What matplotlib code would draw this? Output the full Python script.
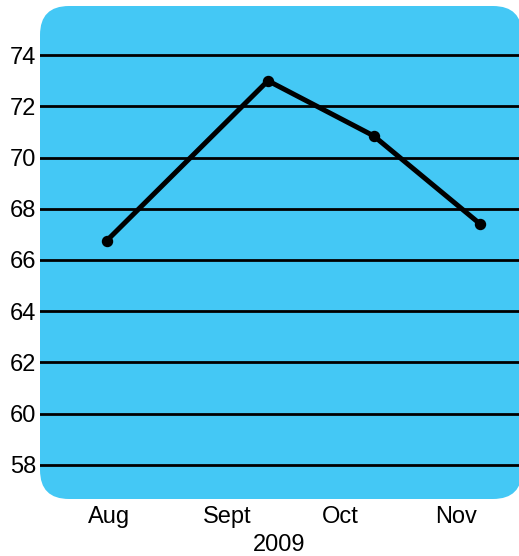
import matplotlib
matplotlib.use("Agg")
import matplotlib.pyplot as plt
from matplotlib.patches import FancyBboxPatch

# Monthly readings for late 2009
months = ["Aug", "Sept", "Oct", "Nov"]
month_ticks = [0.0, 1.02, 1.99, 2.99]
reading_pos = [-0.02, 1.37, 2.28, 3.20]
readings = [66.75, 73.0, 70.85, 67.4]
y_ticks = [58, 60, 62, 64, 66, 68, 70, 72, 74]
year_label = "2009"

panel_blue = "#44C8F5"
plt.rcParams["font.family"] = ["Liberation Sans", "DejaVu Sans"]

fig = plt.figure(figsize=(5.19, 5.56), dpi=100)
ax = fig.add_axes([40 / 519, 57 / 556, 479 / 519, 493 / 556])
ax.set_facecolor("none")

# Rounded blue panel behind the plot, sized in inches so the corners stay circular
panel = FancyBboxPatch((0.40, 0.57), 4.82, 4.93,
                       boxstyle="round,pad=0,rounding_size=0.29",
                       transform=fig.dpi_scale_trans, facecolor=panel_blue,
                       edgecolor="none", clip_on=False, zorder=0)
ax.add_patch(panel)

ax.plot(reading_pos, readings, color="black", lw=3.6, marker="o",
        markersize=7.2, solid_capstyle="round", zorder=3, clip_on=False)

ax.set_xlim(-0.595, 3.534)
ax.set_ylim(56.66, 75.92)
ax.set_yticks(y_ticks)
ax.set_yticklabels([str(v) for v in y_ticks])
ax.set_xticks(month_ticks)
ax.set_xticklabels(months)

ax.set_axisbelow(True)
ax.yaxis.grid(True, color="black", lw=2.0)
ax.xaxis.grid(False)
for s in ax.spines.values():
    s.set_visible(False)

ax.tick_params(axis="y", length=0, pad=2.8, labelsize=17)
ax.tick_params(axis="x", length=0, pad=5.0, labelsize=17)
ax.set_xlabel(year_label, fontsize=17, labelpad=4.2)

fig.savefig("out.png", dpi=100)
